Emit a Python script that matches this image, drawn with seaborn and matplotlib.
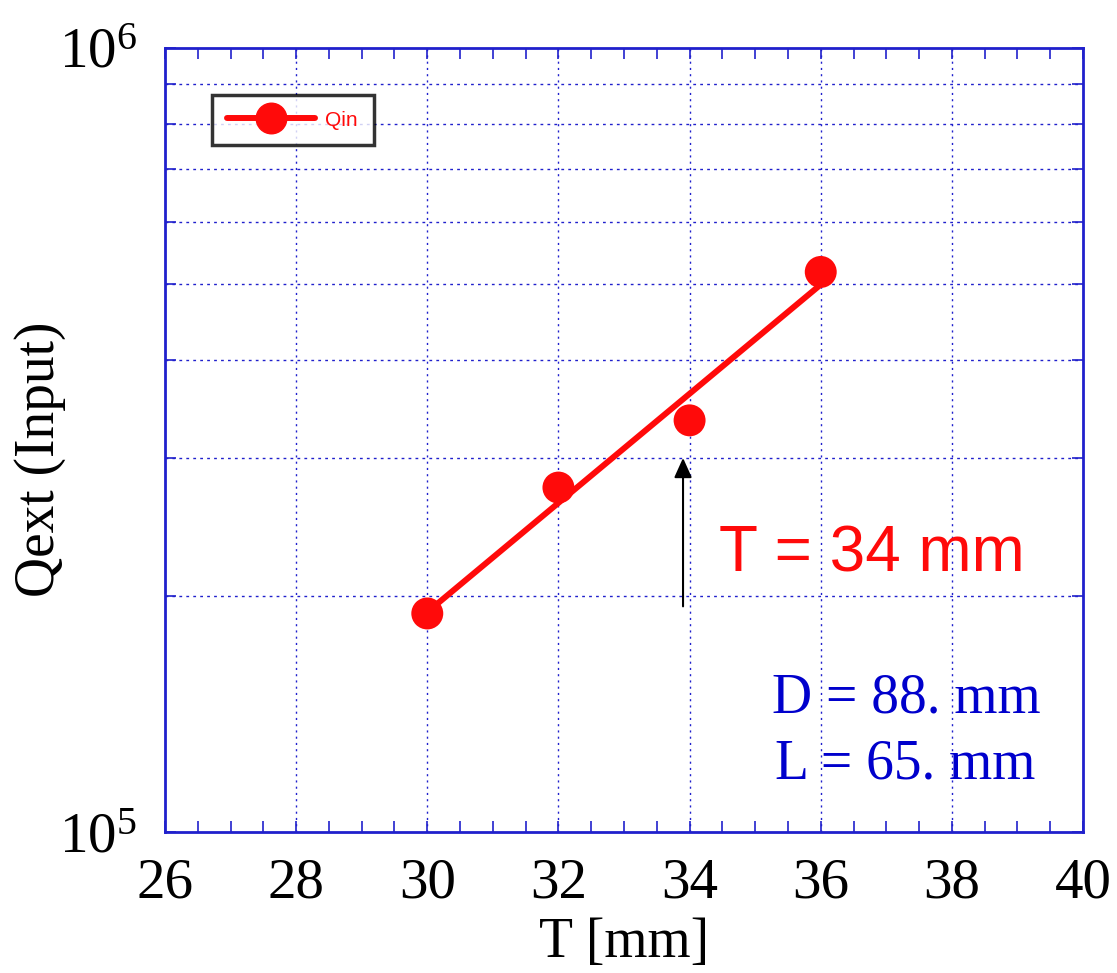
import numpy as np
import pandas as pd
import matplotlib
matplotlib.use("Agg")
import matplotlib.pyplot as plt
import matplotlib.ticker as mticker
from matplotlib.lines import Line2D
import seaborn as sns

# 测量数据
T_mm = [30, 32, 34, 36]
Q_in = [1.90e5, 2.75e5, 3.35e5, 5.18e5]
x_ticks = [26, 28, 30, 32, 34, 36, 38, 40]
note_T = "T = 34 mm"
note_D = "D = 88. mm"
note_L = "L = 65. mm"

sns.set_theme(style="ticks")
plt.rcParams["font.family"] = ["Liberation Serif", "DejaVu Serif"]
plt.rcParams["mathtext.fontset"] = "custom"
plt.rcParams["mathtext.rm"] = "Liberation Serif"
plt.rcParams["mathtext.it"] = "Liberation Serif"
plt.rcParams["text.color"] = "black"
plt.rcParams["axes.labelcolor"] = "black"

blue = "#2020cc"
red = "#ff0a0a"

df = pd.DataFrame({"T": T_mm, "Q": Q_in})

# 指数拟合 (log10 线性)
coef = np.polyfit(df["T"], np.log10(df["Q"]), 1)
fit = pd.DataFrame({"T": [T_mm[0], T_mm[-1]]})
fit["Q"] = 10 ** np.polyval(coef, fit["T"])

fig = plt.figure(figsize=(11.17, 9.73), dpi=100)
ax = fig.add_axes([0.1477, 0.1449, 0.8219, 0.8058])

sns.lineplot(data=fit, x="T", y="Q", color=red, lw=4.3, ax=ax, legend=False, zorder=3)
sns.scatterplot(data=df, x="T", y="Q", color=red, s=23**2, edgecolor="none", ax=ax, legend=False, zorder=4)

ax.set_yscale("log")
ax.set_xlim(26, 40)
ax.set_ylim(1e5, 1e6)
ax.set_xticks(x_ticks)
ax.xaxis.set_minor_locator(mticker.MultipleLocator(0.5))
ax.yaxis.set_major_locator(mticker.FixedLocator([1e5, 1e6]))
ax.yaxis.set_minor_locator(mticker.LogLocator(base=10, subs=np.arange(2, 10)))
ax.yaxis.set_major_formatter(mticker.FuncFormatter(lambda v, p: r"$10^{%d}$" % round(np.log10(v))))
ax.yaxis.set_minor_formatter(mticker.NullFormatter())

# 网格：x 主刻度、y 次刻度
ax.grid(False)
for xv in x_ticks[1:-1]:
    ax.axvline(xv, color=blue, ls=(0, (1.5, 3)), lw=1.0, zorder=1)
for yv in np.arange(2, 10) * 1e5:
    ax.axhline(yv, color=blue, ls=(0, (2, 3)), lw=1.0, zorder=1)

for s in ax.spines.values():
    s.set_color(blue)
    s.set_linewidth(2)
ax.tick_params(which="both", direction="in", color=blue, top=True, right=True, labelcolor="black")
ax.tick_params(which="major", length=8, width=1.2, labelsize=41, pad=18)
ax.tick_params(which="minor", length=8, width=1.2)
ax.tick_params(axis="y", which="major", pad=20)

ax.set_xlabel("T [mm]", fontsize=40, labelpad=6)
ax.set_ylabel("Qext (Input)", fontsize=40)
ax.yaxis.set_label_coords(-0.108, 0.475)

# 箭头与注释
ax.annotate("", xy=(33.9, 3.0e5), xytext=(33.9, 1.94e5),
            arrowprops=dict(arrowstyle="-|>,head_length=1.0,head_width=0.45", color="black", lw=1.5,
                            shrinkA=0, shrinkB=0))
ax.text(34.45, 2.26e5, note_T, color=red, fontsize=46, family=["Liberation Sans"], va="center", ha="left")
ax.text(39.35, 1.48e5, note_D, color="#0000cc", fontsize=40, ha="right", va="center")
ax.text(39.27, 1.22e5, note_L, color="#0000cc", fontsize=40, ha="right", va="center")

handle = Line2D([], [], color=red, lw=4.3, marker="o", markersize=22, markeredgecolor=red)
leg = ax.legend([handle], ["Qin"], loc="upper left", bbox_to_anchor=(0.051, 0.94),
                fontsize=15, handlelength=4.2, frameon=True, fancybox=False,
                borderpad=0.75, borderaxespad=0, handletextpad=0.5)
leg.get_frame().set_edgecolor("black")
leg.get_frame().set_linewidth(2.5)
for t in leg.get_texts():
    t.set_color(red)
    t.set_family(["Liberation Sans"])

fig.savefig("out.png", dpi=100)
